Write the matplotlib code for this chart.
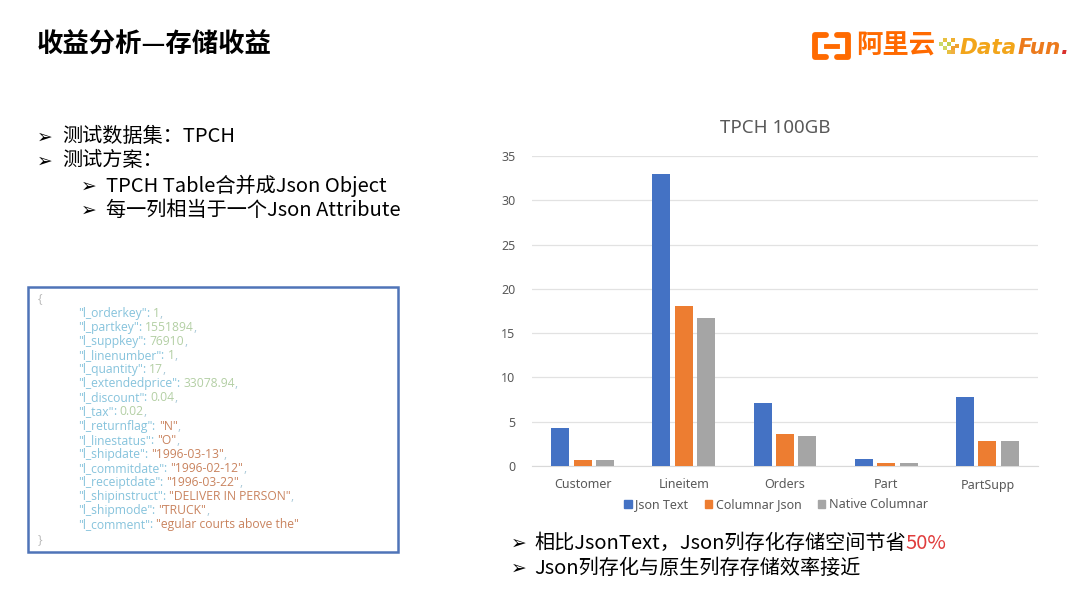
import matplotlib
matplotlib.use("Agg")
import matplotlib.pyplot as plt
from matplotlib.patches import Rectangle
from matplotlib.lines import Line2D
import numpy as np

plt.rcParams['font.family'] = ['Noto Sans CJK SC', 'DejaVu Sans']

# ---- data ----
categories = ["Customer", "Lineitem", "Orders", "Part", "PartSupp"]
series_names = ["Json Text", "Columnar Json", "Native Columnar"]
json_text = [4.3, 33.0, 7.1, 0.75, 7.8]
columnar_json = [0.65, 18.05, 3.6, 0.3, 2.8]
native_columnar = [0.65, 16.7, 3.4, 0.3, 2.8]
y_ticks = [0, 5, 10, 15, 20, 25, 30, 35]
series_colors = ["#4472C4", "#ED7D31", "#A5A5A5"]

page_title = "收益分析—存储收益"
chart_title = "TPCH 100GB"
top_bullets = [("测试数据集：TPCH", 0), ("测试方案：", 0),
               ("TPCH Table合并成Json Object", 1), ("每一列相当于一个Json Attribute", 1)]
json_rows = [
    ("l_orderkey", "1", "num"), ("l_partkey", "1551894", "num"),
    ("l_suppkey", "76910", "num"), ("l_linenumber", "1", "num"),
    ("l_quantity", "17", "num"), ("l_extendedprice", "33078.94", "num"),
    ("l_discount", "0.04", "num"), ("l_tax", "0.02", "num"),
    ("l_returnflag", "\"N\"", "str"), ("l_linestatus", "\"O\"", "str"),
    ("l_shipdate", "\"1996-03-13\"", "str"), ("l_commitdate", "\"1996-02-12\"", "str"),
    ("l_receiptdate", "\"1996-03-22\"", "str"),
    ("l_shipinstruct", "\"DELIVER IN PERSON\"", "str"),
    ("l_shipmode", "\"TRUCK\"", "str"), ("l_comment", "\"egular courts above the\"", "str"),
]

fig = plt.figure(figsize=(10.8, 6.07), dpi=100)
fig.patch.set_facecolor("white")

# full-page overlay in pixel units
bg = fig.add_axes([0, 0, 1, 1])
bg.set_xlim(0, 1080)
bg.set_ylim(607, 0)
bg.axis("off")
renderer = fig.canvas.get_renderer()


def seg_line(x, y, segments, **kw):
    """Draw consecutive text pieces with different colours on one baseline."""
    for txt, col in segments:
        t = bg.text(x, y, txt, color=col, va="baseline", ha="left", **kw)
        w = t.get_window_extent(renderer).width
        x += w
    return x


def arrow_bullet(x, y):
    bg.text(x, y, "➢", fontsize=13.5, color="black", va="center", ha="left",
            family="DejaVu Sans")


# ---- page title ----
bg.text(37, 45, page_title, fontsize=19, fontweight="bold", color="black",
        va="center", ha="left")

# ---- logos ----
orange = "#FF6A00"
bg.add_line(Line2D([826, 815, 815, 826], [35, 35, 57, 57], color=orange, lw=4.2,
                   solid_joinstyle="round", solid_capstyle="round"))
bg.add_line(Line2D([837, 848, 848, 837], [35, 35, 57, 57], color=orange, lw=4.2,
                   solid_joinstyle="round", solid_capstyle="round"))
bg.add_line(Line2D([826, 837], [46, 46], color=orange, lw=3.5))
bg.text(856, 46, "阿里云", fontsize=19, fontweight="bold", color=orange,
        va="center", ha="left")
dot_x = [941, 945, 949, 953, 945, 949, 953, 949, 953, 957]
dot_y = [44, 40, 44, 40, 48, 52, 48, 44, 52, 46]
dot_c = ["#c8d86a", "#e8c040", "#b8d060", "#f0b030", "#d0d860", "#e8c040",
         "#f0a030", "#c0d050", "#f0b040", "#f0a030"]
bg.scatter(dot_x, dot_y, s=6, marker="s", c=dot_c, linewidths=0)
logo_kw = dict(fontsize=15.5, fontweight="bold", fontstyle="italic", family="DejaVu Sans")
xe = seg_line(960, 54, [("Data", "#F2A51A")], **logo_kw)
xe = seg_line(xe, 54, [("Fun", "#EC7A1C")], **logo_kw)
seg_line(xe, 54, [(".", "#D9302C")], **logo_kw)

# ---- top-left bullets ----
bullet_y = [137, 161, 186, 210]
for (txt, lvl), yy in zip(top_bullets, bullet_y):
    ax0 = 37 if lvl == 0 else 81
    arrow_bullet(ax0, yy)
    bg.text(ax0 + 25, yy, txt, fontsize=14.5, color="black", va="center", ha="left")

# ---- JSON sample box ----
bg.add_patch(Rectangle((28, 287), 370, 265, fill=False, edgecolor="#4f74b8", lw=1.8))
key_c = "#86c3dc"
num_c = "#b3cfa4"
str_c = "#c9835e"
punc_c = "#a9c9d8"
code_kw = dict(fontsize=8.7, family="Open Sans")
seg_line(38, 302, [("{", "#b9b9b9")], **code_kw)
for i, (k, v, kind) in enumerate(json_rows):
    yb = 317 + i * 14.07
    last = i == len(json_rows) - 1
    segs = [("\"" + k + "\"", key_c), (": ", key_c),
            (v, num_c if kind == "num" else str_c)]
    if not last:
        segs.append((",", punc_c))
    seg_line(78, yb, segs, **code_kw)
seg_line(38, 543, [("}", "#b9b9b9")], **code_kw)

# ---- bar chart ----
left_px, right_px, bottom_px, top_px = 532, 1038, 466, 156
ax = fig.add_axes([left_px / 1080, 1 - bottom_px / 607,
                   (right_px - left_px) / 1080, (bottom_px - top_px) / 607])
ax.set_facecolor("none")
x = np.arange(len(categories))
bw = 0.178
step = 0.222
for j, (vals, col, name) in enumerate(zip([json_text, columnar_json, native_columnar],
                                           series_colors, series_names)):
    ax.bar(x + (j - 1) * step, vals, width=bw, color=col, label=name, zorder=3)
ax.set_xlim(-0.5, len(categories) - 0.5)
ax.set_ylim(0, 35)
ax.set_yticks(y_ticks)
ax.set_xticks(x)
ax.set_xticklabels(categories)
ax.grid(axis="y", color="#e2e2e2", lw=0.9, zorder=0)
for s in ["top", "right", "left"]:
    ax.spines[s].set_visible(False)
ax.spines["bottom"].set_color("#d9d9d9")
ax.tick_params(axis="both", length=0, labelsize=9, labelcolor="#595959")
ax.tick_params(axis="x", pad=9)
ax.tick_params(axis="y", pad=12)
for lab in ax.get_yticklabels() + ax.get_xticklabels():
    lab.set_family("Noto Sans")

bg.text(775, 128, chart_title, fontsize=13.5, color="#595959", va="center",
        ha="center", family="Noto Sans")

handles = [Rectangle((0, 0), 1, 1, color=c) for c in series_colors]
leg = fig.legend(handles, series_names, loc="center", ncol=3,
                 bbox_to_anchor=(776 / 1080, 1 - 505 / 607), frameon=False,
                 handlelength=0.6, handleheight=0.6, handletextpad=0.3,
                 columnspacing=1.3, prop={"family": "Noto Sans", "size": 9})
for t in leg.get_texts():
    t.set_color("#595959")

# ---- bottom bullets ----
arrow_bullet(511, 543)
seg_line(534, 549, [("相比JsonText，Json列存化存储空间节省", "black"), ("50%", "#E03C3C")],
         fontsize=14.5)
arrow_bullet(511, 568)
seg_line(534, 574, [("Json列存化与原生列存存储效率接近", "black")], fontsize=14.5)

fig.savefig("out.png", dpi=100, facecolor="white")
